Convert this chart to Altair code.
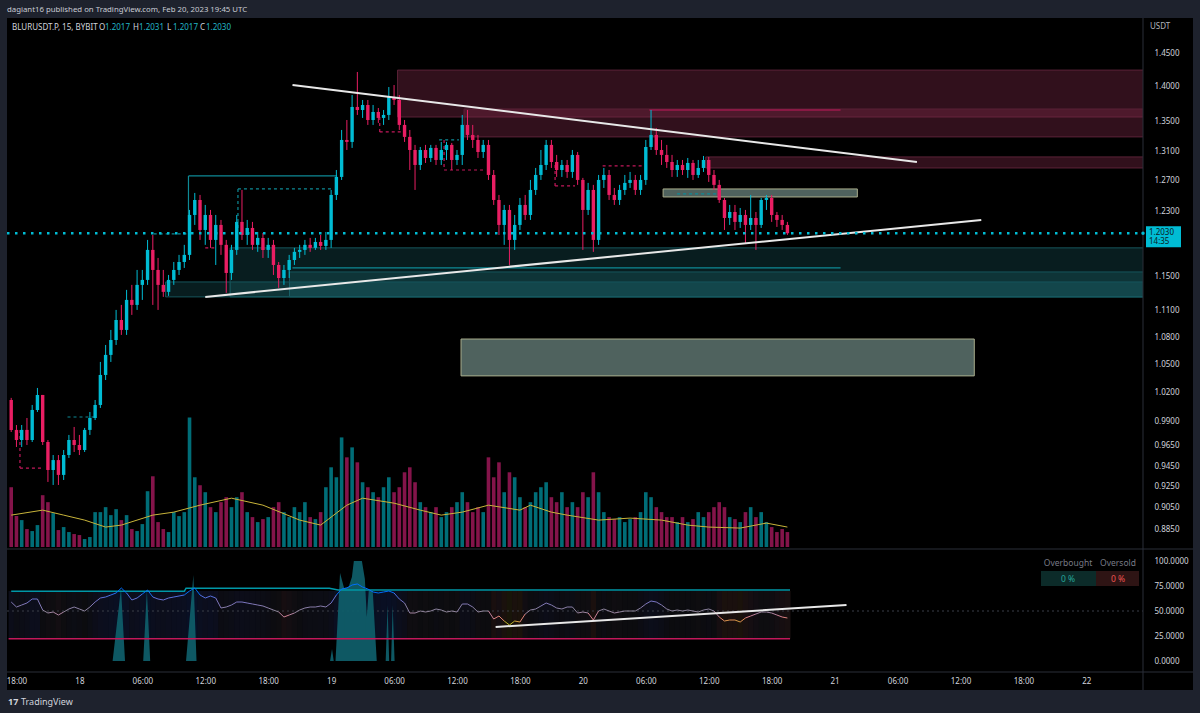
import altair as alt
import pandas as pd

FONT = "Noto Sans"

# ---------------- data ----------------
HEADER = "dagiant16 published on TradingView.com, Feb 20, 2023 19:45 UTC"
SYMBOL = "BLURUSDT.P, 15, BYBIT"
OHLC_LABELS = ["O", "H", "L", "C"]
OHLC_VALUES = ["1.2017", "1.2031", "1.2017", "1.2030"]
LAST_PRICE = 1.2030
LAST_COUNTDOWN = "14:35"

CANDLE_START = "2023-02-17 17:30"
CANDLE_STEP_MIN = 30
OPEN_FIRST = 1.0121
CLOSE = [
    0.9812, 0.9710, 0.9812, 0.9710, 1.0017, 1.0174, 0.9690, 0.9413, 0.9510, 0.9365,
    0.9560, 0.9710, 0.9660, 0.9610, 0.9812, 0.9934, 1.0069, 1.0387, 1.0605, 1.0770,
    1.0996, 1.0883, 1.1227, 1.1169, 1.1403, 1.1462, 1.1824, 1.1581, 1.1403, 1.1321,
    1.1462, 1.1581, 1.1677, 1.1763, 1.2260, 1.2452, 1.2071, 1.2260, 1.1947, 1.2134,
    1.1886, 1.1545, 1.1824, 1.2172, 1.2009, 1.2096, 1.1886, 1.1972, 1.1824, 1.1886,
    1.1641, 1.1485, 1.1581, 1.1701, 1.1800, 1.1824, 1.1886, 1.1849, 1.1922, 1.1873,
    1.1947, 1.2517, 1.2753, 1.3251, 1.3224, 1.3712, 1.3669, 1.3740, 1.3528, 1.3641,
    1.3557, 1.3599, 1.3854, 1.3811, 1.3459, 1.3293, 1.3114, 1.2912, 1.3114, 1.3006,
    1.3142, 1.2979, 1.3114, 1.3183, 1.2979, 1.3047, 1.3459, 1.3320, 1.3251, 1.3087,
    1.3183, 1.2779, 1.2452, 1.2134, 1.2324, 1.1947, 1.2134, 1.2388, 1.2260, 1.2582,
    1.2779, 1.2912, 1.3183, 1.2952, 1.2845, 1.2912, 1.2819, 1.3047, 1.2713, 1.2324,
    1.2582, 1.1947, 1.2713, 1.2779, 1.2517, 1.2452, 1.2582, 1.2674, 1.2713, 1.2582,
    1.2713, 1.3155, 1.3320, 1.3114, 1.3047, 1.2952, 1.2845, 1.2912, 1.2845, 1.2939,
    1.2779, 1.2872, 1.2979, 1.2779, 1.2648, 1.2452, 1.2222, 1.2298, 1.2172, 1.2260,
    1.2134, 1.2222, 1.2134, 1.2452, 1.2478, 1.2260, 1.2197, 1.2134, 1.2030,
]
HIGH = [
    1.0143, 0.9862, 0.9862, 0.9934, 1.0069, 1.0248, 1.0174, 0.9710, 0.9560, 0.9560,
    0.9610, 0.9761, 0.9842, 0.9761, 0.9832, 0.9996, 1.0121, 1.0528, 1.0715, 1.0883,
    1.1111, 1.1169, 1.1344, 1.1403, 1.1581, 1.1581, 1.1947, 1.2009, 1.1726, 1.1581,
    1.1521, 1.1677, 1.1763, 1.1886, 1.2324, 1.2543, 1.2517, 1.2388, 1.2324, 1.2260,
    1.2197, 1.1947, 1.1886, 1.2260, 1.2582, 1.2197, 1.2172, 1.2046, 1.2034, 1.1972,
    1.1947, 1.1677, 1.1641, 1.1763, 1.1849, 1.1886, 1.1947, 1.1972, 1.1972, 1.2009,
    1.2046, 1.2582, 1.2845, 1.3389, 1.3528, 1.3883, 1.4218, 1.3811, 1.3811, 1.3740,
    1.3697, 1.3669, 1.3998, 1.4027, 1.3883, 1.3528, 1.3389, 1.3183, 1.3155, 1.3183,
    1.3183, 1.3183, 1.3224, 1.3224, 1.3210, 1.3114, 1.3599, 1.3669, 1.3459, 1.3320,
    1.3251, 1.3251, 1.2845, 1.2517, 1.2388, 1.2388, 1.2260, 1.2478, 1.2517, 1.2713,
    1.2872, 1.3114, 1.3251, 1.3251, 1.3047, 1.2979, 1.2979, 1.3114, 1.3087, 1.2740,
    1.2674, 1.2648, 1.2779, 1.2872, 1.2845, 1.2608, 1.2648, 1.2779, 1.2819, 1.2779,
    1.2779, 1.3251, 1.3669, 1.3417, 1.3251, 1.3183, 1.3047, 1.2979, 1.2979, 1.3006,
    1.2979, 1.2979, 1.3033, 1.3020, 1.2845, 1.2713, 1.2478, 1.2388, 1.2388, 1.2349,
    1.2324, 1.2517, 1.2298, 1.2478, 1.2517, 1.2517, 1.2298, 1.2260, 1.2172,
]
LOW = [
    0.9791, 0.9640, 0.9640, 0.9660, 0.9690, 0.9996, 0.9660, 0.9297, 0.9268, 0.9268,
    0.9316, 0.9531, 0.9590, 0.9560, 0.9590, 0.9761, 0.9913, 1.0038, 1.0333, 1.0528,
    1.0715, 1.0827, 1.0827, 1.1054, 1.1111, 1.1227, 1.1403, 1.1169, 1.1111, 1.1262,
    1.1274, 1.1403, 1.1521, 1.1605, 1.1701, 1.2134, 1.1947, 1.1886, 1.1849, 1.1641,
    1.1763, 1.1309, 1.1462, 1.1763, 1.1947, 1.1886, 1.1824, 1.1800, 1.1726, 1.1726,
    1.1521, 1.1368, 1.1403, 1.1485, 1.1641, 1.1726, 1.1763, 1.1800, 1.1824, 1.1824,
    1.1824, 1.1849, 1.2452, 1.2713, 1.3114, 1.3142, 1.3599, 1.3557, 1.3459, 1.3459,
    1.3487, 1.3459, 1.3528, 1.3740, 1.3389, 1.3224, 1.2845, 1.2582, 1.2845, 1.2939,
    1.2952, 1.2912, 1.2912, 1.2979, 1.2845, 1.2912, 1.2912, 1.3251, 1.3142, 1.3006,
    1.3006, 1.2713, 1.2388, 1.2009, 1.1886, 1.1641, 1.1824, 1.2071, 1.2197, 1.2197,
    1.2517, 1.2713, 1.2845, 1.2872, 1.2753, 1.2753, 1.2740, 1.2740, 1.2648, 1.1824,
    1.2260, 1.1800, 1.1886, 1.2608, 1.2452, 1.2388, 1.2388, 1.2517, 1.2608, 1.2517,
    1.2517, 1.2648, 1.3114, 1.3047, 1.2912, 1.2872, 1.2753, 1.2753, 1.2779, 1.2740,
    1.2713, 1.2740, 1.2819, 1.2687, 1.2582, 1.2414, 1.2071, 1.2134, 1.2071, 1.2096,
    1.1910, 1.2071, 1.1824, 1.2096, 1.2324, 1.2172, 1.2109, 1.2071, 1.2009,
]
VOLUME_K = [
    600, 310, 270, 180, 160, 220, 520, 450, 340, 170,
    200, 150, 130, 120, 80, 100, 350, 350, 400, 320,
    380, 270, 320, 180, 160, 230, 560, 710, 250, 180,
    150, 350, 310, 350, 1300, 700, 620, 550, 400, 350,
    450, 500, 400, 500, 550, 350, 300, 250, 280, 300,
    400, 450, 350, 300, 400, 350, 450, 300, 280, 350,
    600, 800, 700, 1100, 900, 1000, 850, 650, 600, 550,
    500, 600, 700, 550, 600, 750, 800, 650, 450, 400,
    350, 400, 300, 350, 400, 450, 550, 450, 350, 400,
    350, 900, 700, 850, 550, 750, 700, 500, 400, 450,
    550, 600, 650, 500, 450, 550, 400, 450, 400, 550,
    500, 750, 550, 350, 300, 280, 300, 250, 280, 300,
    350, 550, 500, 400, 350, 300, 300, 250, 300, 250,
    280, 350, 300, 350, 400, 450, 400, 300, 280, 250,
    350, 400, 300, 350, 250, 200, 150, 180, 150,
]
RSI = [
    59, 54, 56, 58, 62, 62, 51, 48, 49, 46,
    49, 52, 54, 52, 50, 54, 59, 63, 64, 66,
    68, 73, 68, 61, 63, 67, 71, 64, 62, 61,
    63, 64, 65, 66, 70, 73, 66, 63, 65, 63,
    53, 54, 56, 59, 59, 58, 57, 56, 55, 53,
    51, 49, 44, 46, 48, 51, 53, 54, 54, 55,
    54, 58, 66, 72, 73, 76, 77, 74, 72, 69,
    68, 69, 70, 68, 62, 58, 48, 48, 50, 49,
    50, 52, 51, 49, 50, 49, 57, 57, 54, 49,
    50, 50, 42, 45, 40, 36, 40, 39, 47, 51,
    52, 55, 58, 56, 53, 52, 54, 54, 48, 49,
    48, 41, 50, 52, 50, 48, 49, 50, 50, 50,
    53, 57, 60, 59, 56, 52, 50, 51, 50, 51,
    50, 49, 51, 52, 50, 44, 40, 41, 41, 39,
    43, 45, 47, 49, 49, 48, 46, 44, 43,
]
# volume moving average, read at a subset of candles (candle index, value in K)
MA_IDX = [0, 6, 10, 14, 18, 21, 27, 31, 36, 42, 48, 55, 59, 64, 67, 73, 78, 82, 86, 91,
          97, 99, 103, 106, 112, 118, 124, 129, 133, 139, 144, 148]
MA_K = [320, 370, 320, 270, 200, 220, 320, 350, 420, 490, 420, 270, 220, 420, 490, 440, 370, 320, 350, 420,
        370, 420, 350, 320, 270, 290, 270, 220, 200, 190, 240, 200]

RSI_UPPER_T = ["2023-02-17 17:30", "2023-02-18 10:00", "2023-02-18 10:10", "2023-02-18 23:50",
               "2023-02-19 00:40", "2023-02-20 19:45"]
RSI_UPPER_V = [69.7, 69.7, 72.7, 72.7, 71.0, 71.0]
RSI_LOWER = 22.3
RSI_MID = 50

SPIKE_T = ["2023-02-18 03:10", "2023-02-18 03:58", "2023-02-18 04:21",
           "2023-02-18 06:05", "2023-02-18 06:26", "2023-02-18 06:45",
           "2023-02-18 10:10", "2023-02-18 10:52", "2023-02-18 11:10",
           "2023-02-18 23:54", "2023-02-19 00:05", "2023-02-19 00:15", "2023-02-19 00:25",
           "2023-02-19 00:51", "2023-02-19 01:14", "2023-02-19 01:40", "2023-02-19 01:59",
           "2023-02-19 02:10", "2023-02-19 02:56", "2023-02-19 03:13", "2023-02-19 03:24",
           "2023-02-19 03:35", "2023-02-19 03:58", "2023-02-19 04:21",
           "2023-02-19 05:12", "2023-02-19 05:23", "2023-02-19 05:32", "2023-02-19 05:43",
           "2023-02-19 05:52", "2023-02-19 06:03"]
SPIKE_V = [0, 73, 0, 0, 71, 0, 0, 86, 0,
           0, 12, 0, 0, 88, 73, 74, 84, 100, 100, 82, 44, 70, 70, 0,
           0, 56, 0, 0, 56, 0]

# zones: start, end, top price, bottom price, kind
ZONE_EDGE = "2023-02-22 06:00"
ZONE_T1 = ["2023-02-19 06:20", "2023-02-19 12:40", "2023-02-20 11:43", "2023-02-20 07:39",
           "2023-02-19 12:23", "2023-02-18 14:22", "2023-02-18 20:02", "2023-02-18 08:13"]
ZONE_T2 = [ZONE_EDGE, ZONE_EDGE, ZONE_EDGE, "2023-02-21 02:10",
           "2023-02-21 13:19", ZONE_EDGE, ZONE_EDGE, ZONE_EDGE]
ZONE_P1 = [1.4246, 1.3683, 1.3020, 1.2595, 1.0781, 1.1849, 1.1557, 1.1438]
ZONE_P2 = [1.3570, 1.3293, 1.2872, 1.2491, 1.0377, 1.1262, 1.1262, 1.1262]
ZONE_KIND = ["supply", "supply", "supply", "target", "target", "demand", "demand", "demand"]

# drawn box edges / levels
SEG_T1 = ["2023-02-18 10:24", "2023-02-18 10:24", "2023-02-18 15:07", "2023-02-18 15:07",
          "2023-02-18 12:00", "2023-02-18 07:05", "2023-02-19 04:38", "2023-02-19 04:38",
          "2023-02-19 10:18", "2023-02-19 10:46", "2023-02-19 10:46", "2023-02-19 21:21",
          "2023-02-19 21:21", "2023-02-20 01:53", "2023-02-20 08:59", "2023-02-17 22:52",
          "2023-02-17 18:20", "2023-02-17 18:20", "2023-02-20 06:20", "2023-02-18 20:19"]
SEG_T2 = ["2023-02-19 00:34", "2023-02-18 10:24", "2023-02-19 00:06", "2023-02-18 15:07",
          "2023-02-18 13:02", "2023-02-18 10:12", "2023-02-19 06:59", "2023-02-19 04:38",
          "2023-02-19 12:11", "2023-02-19 14:44", "2023-02-19 10:46", "2023-02-19 23:15",
          "2023-02-19 21:21", "2023-02-20 05:51", "2023-02-20 12:57", "2023-02-18 01:25",
          "2023-02-17 20:30", "2023-02-17 18:20", "2023-02-21 00:34", "2023-02-21 00:34"]
SEG_P1 = [1.2766, 1.2766, 1.2595, 1.2595, 1.1849, 1.2021, 1.3362, 1.3570,
          1.3251, 1.2845, 1.3251, 1.2635, 1.2912, 1.2899, 1.2530, 0.9944,
          0.9432, 0.9812, 1.3669, 1.1605]
SEG_P2 = [1.2766, 1.2046, 1.2595, 1.2071, 1.1849, 1.2021, 1.3362, 1.3362,
          1.3251, 1.2845, 1.2845, 1.2635, 1.2635, 1.2899, 1.2530, 0.9944,
          0.9432, 0.9432, 1.3669, 1.1605]
SEG_KIND = ["solid_up", "solid_up", "dash_up", "dash_up", "dash_down", "dash_up", "dash_down", "dash_down",
            "dash_up", "dash_down", "dash_down", "dash_down", "dash_down", "dash_down", "dash_up", "dash_up",
            "dash_down", "dash_down", "solid_down", "solid_up"]

TREND_T1 = ["2023-02-18 20:19", "2023-02-18 12:00"]
TREND_P1 = [1.4027, 1.1262]
TREND_T2 = ["2023-02-21 07:51", "2023-02-21 13:59"]
TREND_P2 = [1.2952, 1.2197]
RSI_TREND_T = ["2023-02-19 15:41", "2023-02-21 01:08"]
RSI_TREND_V = [34, 56]

PRICE_TICKS = [1.45, 1.40, 1.35, 1.31, 1.27, 1.23, 1.15, 1.11, 1.08, 1.05, 1.02,
               0.99, 0.965, 0.945, 0.925, 0.905, 0.885]
RSI_TICKS = [0, 25, 50, 75, 100]
TIME_TICKS = ["2023-02-17 18:00"] + [
    f"2023-02-{d} {h:02d}:00" for d in (18, 19, 20, 21) for h in (0, 6, 12, 18)
] + ["2023-02-22 00:00"]

X_DOMAIN = ["2023-02-17 17:34:30", "2023-02-22 04:55:30"]
PRICE_DOMAIN = [0.86729, 1.5036]
RSI_DOMAIN = [-11, 112]
VOL_DOMAIN = [0, 5310]


# ---------------- helpers ----------------
def ms(s):
    return int(pd.Timestamp(s, tz="UTC").value // 10**6)


W, H = 1136, 654
PRICE_H = 531

n = len(CLOSE)
t0 = pd.Timestamp(CANDLE_START, tz="UTC")
times = [int((t0 + pd.Timedelta(minutes=CANDLE_STEP_MIN * i)).value // 10**6) for i in range(n)]
half = CANDLE_STEP_MIN * 60000 // 2
opens = [OPEN_FIRST] + CLOSE[:-1]
cdf = pd.DataFrame({
    "t": times,
    "ta": [t - half for t in times],
    "tb": [t + half + 180000 for t in times],
    "open": opens,
    "close": CLOSE,
    "high": [max(h, o, c) for h, o, c in zip(HIGH, opens, CLOSE)],
    "low": [min(l, o, c) for l, o, c in zip(LOW, opens, CLOSE)],
    "vol": VOLUME_K,
    "rsi": RSI,
    "lo": [RSI_LOWER] * n,
    "hi": [70] * n,
})
cdf["dir"] = ["up" if c >= o else "down" for o, c in zip(opens, CLOSE)]

seg_rsi = pd.DataFrame({
    "t": times[:-1], "t2": times[1:], "r": RSI[:-1], "r2": RSI[1:],
    "m": [(a + b) / 2 for a, b in zip(RSI[:-1], RSI[1:])],
})
ma_df = pd.DataFrame({"t": [times[i] for i in MA_IDX], "v": MA_K})
upper_df = pd.DataFrame({"t": [ms(s) for s in RSI_UPPER_T], "v": RSI_UPPER_V})
spike_df = pd.DataFrame({"t": [ms(s) for s in SPIKE_T], "v": SPIKE_V})
zone_df = pd.DataFrame({"t1": [ms(s) for s in ZONE_T1], "t2": [ms(s) for s in ZONE_T2],
                        "p1": ZONE_P1, "p2": ZONE_P2, "kind": ZONE_KIND})
seg_df = pd.DataFrame({"t1": [ms(s) for s in SEG_T1], "t2": [ms(s) for s in SEG_T2],
                       "p1": SEG_P1, "p2": SEG_P2, "kind": SEG_KIND})
trend_df = pd.DataFrame({"t1": [ms(s) for s in TREND_T1], "t2": [ms(s) for s in TREND_T2],
                         "p1": TREND_P1, "p2": TREND_P2})
rtrend_df = pd.DataFrame({"t1": [ms(RSI_TREND_T[0])], "t2": [ms(RSI_TREND_T[1])],
                          "v1": [RSI_TREND_V[0]], "v2": [RSI_TREND_V[1]]})
last_df = pd.DataFrame({"p": [LAST_PRICE], "a": [f"{LAST_PRICE:.4f}"], "b": [LAST_COUNTDOWN]})
one = pd.DataFrame({"k": [0]})

XS = alt.Scale(type="utc", domain=[ms(X_DOMAIN[0]), ms(X_DOMAIN[1])])
XA = alt.Axis(values=[ms(s) for s in TIME_TICKS],
              labelExpr="utchours(datum.value) == 0 ? utcFormat(datum.value, '%-d') : utcFormat(datum.value, '%H:%M')",
              ticks=False, domain=False, grid=False, labelColor="#d1d4dc", labelFontSize=8,
              labelFont=FONT, labelPadding=5, title=None, labelOverlap=False, labelFlush=False, zindex=2)


def X(f):
    return alt.X(f, type="temporal", scale=XS, axis=XA)


def PS():
    return alt.Scale(type="log", domain=PRICE_DOMAIN, range=[PRICE_H, 0], nice=False, zero=False)


def RS():
    return alt.Scale(domain=RSI_DOMAIN, range=[H, PRICE_H], nice=False, zero=False)


def Y(f, axis=None):
    return alt.Y(f, type="quantitative", scale=PS(), axis=axis)


def YR(f, axis=None):
    return alt.Y(f, type="quantitative", scale=RS(), axis=axis)


PAXIS = alt.Axis(orient="right", values=PRICE_TICKS, format=".4f", ticks=False, domain=False, grid=False,
                 labelColor="#d1d4dc", labelFontSize=8, labelFont=FONT, labelPadding=11, title=None,
                 labelOverlap=False, labelAlign="left", zindex=2)
RAXIS = alt.Axis(orient="right", values=RSI_TICKS, format=".4f", ticks=False, domain=False, grid=False,
                 labelColor="#d1d4dc", labelFontSize=8, labelFont=FONT, labelPadding=11, title=None,
                 labelOverlap=False, labelAlign="left", zindex=2)

DIR = alt.Scale(domain=["up", "down"], range=["#00bcd4", "#e91e63"])
VDIR = alt.Scale(domain=["up", "down"], range=["#006d77", "#84144a"])


def pix_rect(x, x2, y, y2, color, **kw):
    return alt.Chart(one).mark_rect(color=color, **kw).encode(
        x=alt.value(x), x2=alt.value(x2), y=alt.value(y), y2=alt.value(y2))


def pix_rule(x, x2, y, y2, color, **kw):
    return alt.Chart(one).mark_rule(color=color, **kw).encode(
        x=alt.value(x), x2=alt.value(x2), y=alt.value(y), y2=alt.value(y2))


def txt(s, x, y, color="#d1d4dc", size=8, align="left", weight="normal"):
    return alt.Chart(pd.DataFrame({"s": [s]})).mark_text(
        align=align, baseline="middle", color=color, fontSize=size, font=FONT, fontWeight=weight
    ).encode(x=alt.value(x), y=alt.value(y), text="s:N")


layers = []
# black chart background (plot + axis strips)
layers.append(pix_rect(0, W + 50, 0, H + 18, "#000000"))

# zones, one layer per kind
ZONE_STYLE = {
    "supply": dict(fill="#7a2946", fillOpacity=0.4, stroke="#5a2237", strokeWidth=1),
    "target": dict(fill="#566a66", fillOpacity=0.92, stroke="#a9ad8c", strokeWidth=1),
    "demand": dict(fill="#2a8f99", fillOpacity=0.2, stroke="#16555b", strokeWidth=1),
}
for kind, style in ZONE_STYLE.items():
    layers.append(alt.Chart(zone_df[zone_df["kind"] == kind]).mark_rect(clip=True, **style).encode(
        x=X("t1"), x2="t2", y=Y("p1"), y2="p2"))

# volume
VS = alt.Scale(domain=VOL_DOMAIN, range=[PRICE_H - 2, 0], nice=False)
layers.append(alt.Chart(cdf).mark_bar(size=3.6, clip=True).encode(
    x=X("t"), y=alt.Y("vol:Q", scale=VS, axis=None),
    color=alt.Color("dir:N", scale=VDIR, legend=None)))
layers.append(alt.Chart(ma_df).mark_line(color="#c8b43a", strokeWidth=1, clip=True).encode(
    x=X("t"), y=alt.Y("v:Q", scale=alt.Scale(domain=VOL_DOMAIN, range=[PRICE_H - 2, 0], nice=False), axis=None)))

# box edges
SK = ["solid_up", "dash_up", "dash_down", "solid_down"]
layers.append(alt.Chart(seg_df).mark_rule(strokeWidth=1.2, clip=True).encode(
    x=X("t1"), x2="t2", y=Y("p1"), y2="p2",
    color=alt.Color("kind:N", scale=alt.Scale(domain=SK, range=["#0e8a96", "#0e8a96", "#c2185b", "#c2185b"]),
                    legend=None),
    strokeDash=alt.StrokeDash("kind:N", scale=alt.Scale(domain=SK, range=[[1, 0], [3, 3], [3, 3], [1, 0]]),
                              legend=None),
))

# candles
layers.append(alt.Chart(cdf).mark_rule(strokeWidth=1, clip=True).encode(
    x=X("t"), y=Y("low"), y2="high", color=alt.Color("dir:N", scale=DIR, legend=None)))
layers.append(alt.Chart(cdf).mark_bar(size=3.4, clip=True).encode(
    x=X("t"), y=Y("open", PAXIS), y2="close", color=alt.Color("dir:N", scale=DIR, legend=None)))

# trendlines
layers.append(alt.Chart(trend_df).mark_rule(color="#e8e8e8", strokeWidth=2, clip=True).encode(
    x=X("t1"), x2="t2", y=Y("p1"), y2="p2"))

# last price dotted line
layers.append(alt.Chart(last_df).mark_rule(color="#00bcd4", strokeWidth=2.5, strokeDash=[2.5, 5.5]).encode(
    x=alt.value(0), x2=alt.value(W), y=Y("p")))

# RSI pane
layers.append(alt.Chart(cdf).mark_rect().encode(
    x=X("ta"), x2="tb", y=YR("lo"), y2="hi",
    color=alt.Color("rsi:Q", scale=alt.Scale(domain=[38, 50, 68], range=["#1a130a", "#0c0c0f", "#0a0f22"]),
                    legend=None)))
layers.append(alt.Chart(pd.DataFrame({"v": [RSI_MID]})).mark_rule(color="#3a3e48", strokeDash=[2, 3]).encode(
    x=alt.value(0), x2=alt.value(W), y=YR("v")))
layers.append(alt.Chart(spike_df).mark_area(color="#0f5d68", opacity=0.95, clip=True).encode(
    x=X("t"), y=YR("v")))
layers.append(alt.Chart(upper_df).mark_line(color="#0097a7", strokeWidth=1.5, clip=True).encode(
    x=X("t"), y=YR("v", RAXIS)))
layers.append(alt.Chart(pd.DataFrame({"t": [times[0] - half, times[-1] + half], "v": [RSI_LOWER] * 2}))
              .mark_line(color="#c2185b", strokeWidth=1.5, clip=True).encode(x=X("t"), y=YR("v")))
layers.append(alt.Chart(seg_rsi).mark_rule(strokeWidth=1, clip=True).encode(
    x=X("t"), x2="t2", y=YR("r"), y2="r2",
    color=alt.Color("m:Q", scale=alt.Scale(domain=[40, 50, 66], range=["#d99a45", "#8c8597", "#3f6fe8"]),
                    legend=None)))
layers.append(alt.Chart(rtrend_df).mark_rule(color="#e8e8e8", strokeWidth=2).encode(
    x=X("t1"), x2="t2", y=YR("v1"), y2="v2"))

# separators
layers.append(pix_rule(W, W, 0, H + 18, "#2a2e39"))
layers.append(pix_rule(0, W + 50, PRICE_H, PRICE_H, "#2a2e39"))
layers.append(pix_rule(0, W + 50, H, H, "#2a2e39"))

# last price label on axis
layers.append(alt.Chart(last_df).mark_rect(color="#00bcd4", yOffset=-7, y2Offset=14).encode(
    x=alt.value(W + 3), x2=alt.value(W + 38), y=Y("p"), y2="p"))
layers.append(alt.Chart(last_df).mark_text(align="left", baseline="middle", color="#0b1b22", fontSize=8,
                                           font=FONT).encode(x=alt.value(W + 6), y=Y("p"), text="a:N"))
layers.append(alt.Chart(last_df).mark_text(align="left", baseline="middle", color="#0b1b22", fontSize=8,
                                           font=FONT, dy=9).encode(x=alt.value(W + 6), y=Y("p"), text="b:N"))
layers.append(alt.Chart(last_df).mark_point(filled=True, color="#00bcd4", size=12, opacity=1).encode(
    x=alt.value(W), y=Y("p")))

# texts
layers.append(txt(HEADER, 0, -8, color="#c9ccd4", size=7.8))
layers.append(txt("USDT", W + 7, 9, color="#b2b5be"))
layers.append(txt(SYMBOL, 5, 10, color="#d1d4dc"))
lab_x = [92, 126, 160, 193]
for lab, val, lx in zip(OHLC_LABELS, OHLC_VALUES, lab_x):
    layers.append(txt(lab, lx, 10, color="#d1d4dc"))
    layers.append(txt(val, lx + 6, 10, color="#22b5c6"))

# overbought / oversold table
layers.append(txt("Overbought", 1061, 545, color="#787b86", align="center", size=8.5))
layers.append(txt("Oversold", 1111, 545, color="#787b86", align="center", size=8.5))
layers.append(pix_rect(1034, 1089, 553, 568, "#0c2b29"))
layers.append(pix_rect(1089, 1132, 553, 568, "#2e1414"))
layers.append(txt("0 %", 1061, 561, color="#26a69a", align="center", size=8.5))
layers.append(txt("0 %", 1111, 561, color="#ef5350", align="center", size=8.5))

# footer logo
layers.append(txt("17", 1, 684, color="#d1d4dc", size=9, weight="bold"))
layers.append(txt("TradingView", 14, 684, color="#d1d4dc", size=9))

chart = alt.layer(*layers).resolve_scale(y="independent").properties(
    width=W, height=H,
    autosize=alt.AutoSizeParams(type="none"),
    padding={"left": 7, "top": 18, "right": 57, "bottom": 41},
).configure(background="#1e222d").configure_view(stroke=None)

chart.save("out.html", embed_options={"renderer": "svg", "actions": False})
